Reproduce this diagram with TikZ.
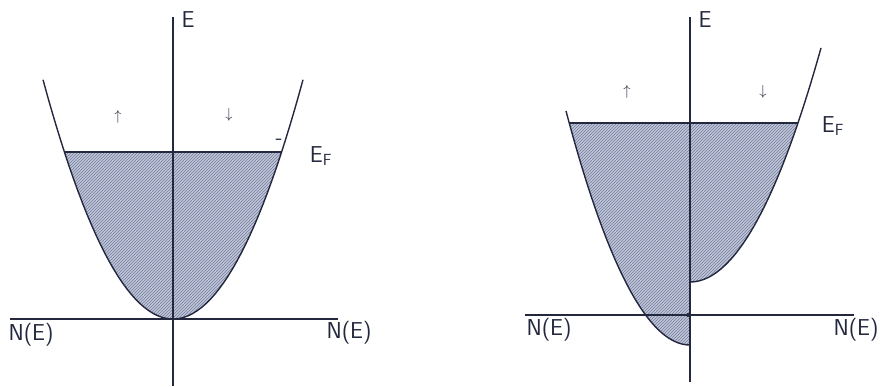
\documentclass[tikz,border=0pt]{standalone}
\usetikzlibrary{patterns}
\definecolor{ink}{RGB}{35,40,62}
\definecolor{bandfill}{RGB}{192,198,216}
\definecolor{hatch}{RGB}{118,126,158}

\begin{document}
\begin{tikzpicture}[x=1pt,y=1pt,
  lbl/.style={font=\fontsize{23}{25}\selectfont\sffamily,text=ink,inner sep=0pt},
  spin/.style={font=\fontsize{15}{16}\selectfont,text=ink,inner sep=0pt},
  band/.style={preaction={fill=bandfill},pattern=north east lines,pattern color=hatch},
  curve/.style={ink,line width=1.4pt},
  axis/.style={ink,line width=1.1pt}]
\useasboundingbox (0,0) rectangle (884,386);
% left: both spin bands filled alike
\begin{scope}[shift={(173,67)}]
\coordinate (fa) at (-108.6,167);
\coordinate (fb) at (108.6,167);
\fill[band] plot[domain=-108.6:108.6,samples=50] (\x,{(\x/10)*(\x/10)*1.416}) -- cycle;
\draw[axis] (fa) -- (fb);
\draw[axis] (-163,0) -- (165,0);
\draw[axis] (0,-67) -- (0,302);
\draw[curve] plot[domain=-130:130,samples=60] (\x,{(\x/10)*(\x/10)*1.416});
\end{scope}
% right: bands shifted apart
\begin{scope}[shift={(690,71)}]
\coordinate (fc) at (-120.8,192);
\coordinate (fd) at (108,192);
\fill[band] plot[domain=0:-120.8,samples=40] (\x,{-30+(\x/10)*(\x/10)*1.522})
  -- plot[domain=108:0,samples=40] (\x,{33+(\x/10)*(\x/10)*1.364}) -- cycle;
\draw[axis] (fc) -- (fd);
\draw[axis] (-165,0) -- (164,0);
\draw[axis] (0,-67) -- (0,298);
\draw[curve] plot[domain=-124:0,samples=40] (\x,{-30+(\x/10)*(\x/10)*1.522});
\draw[curve] plot[domain=0:131,samples=40] (\x,{33+(\x/10)*(\x/10)*1.364});
\fill[ink] (-2,0) circle (2);
\end{scope}
% labels
\node[lbl] (eA) at (188,366) {E};
\node[lbl] (efA) at (321,230) {E\textsubscript{F}};
\node[lbl] (nAl) at (31,51) {N(E)};
\node[lbl] (nAr) at (349,53) {N(E)};
\node[spin] (upA) at (118,269) {$\uparrow$};
\node[spin] (dnA) at (229,271) {$\downarrow$};
\node[lbl,font=\fontsize{22}{22}\selectfont\sffamily] (dash) at (279,244) {-};
\node[lbl] (eB) at (705,366) {E};
\node[lbl] (efB) at (833,260) {E\textsubscript{F}};
\node[lbl] (nBl) at (549,56) {N(E)};
\node[lbl] (nBr) at (856,56) {N(E)};
\node[spin] (upB) at (627,294) {$\uparrow$};
\node[spin] (dnB) at (763,294) {$\downarrow$};
\end{tikzpicture}
\end{document}
